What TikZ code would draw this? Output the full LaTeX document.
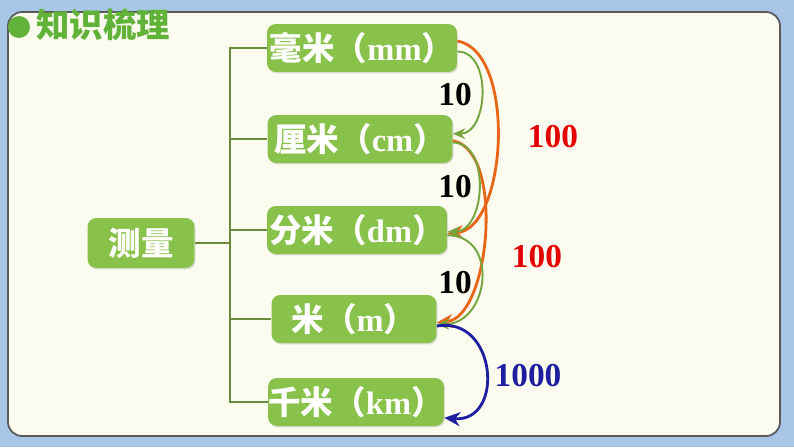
\documentclass[tikz,border=0pt]{standalone}
\usepackage{fontspec}
\setmainfont{Liberation Serif}
\newfontfamily\cjk{Noto Sans CJK SC}
\usetikzlibrary{positioning, arrows.meta, shadows}

\definecolor{leafgreen}{RGB}{136,194,74}
\definecolor{titlegreen}{RGB}{96,178,56}
\definecolor{branchgreen}{RGB}{104,140,60}
\definecolor{arcorange}{RGB}{232,102,24}
\definecolor{arcblue}{RGB}{30,30,160}
\definecolor{numred}{RGB}{228,0,0}
\definecolor{panelcream}{RGB}{252,251,240}
\definecolor{frameblue}{RGB}{168,198,232}

\tikzset{
  unitbox/.style={fill=leafgreen, rounded corners=5pt, text=white, inner sep=0pt,
    minimum height=0.96cm, font=\bfseries\fontsize{18.5}{21}\selectfont,
    drop shadow={shadow xshift=0.6pt, shadow yshift=-0.8pt, opacity=0.25}},
  branch/.style={draw=branchgreen, line width=0.7pt},
  tenarc/.style={draw=leafgreen!85!black, line width=1.1pt, -{Stealth[length=7pt, width=6pt]}},
  hundredarc/.style={draw=arcorange, line width=1.6pt, -{Stealth[length=9pt, width=8pt]}},
  thousandarc/.style={draw=arcblue, line width=1.6pt, -{Stealth[length=9pt, width=8pt]}},
  numlabel/.style={font=\bfseries\fontsize{19}{21}\selectfont},
}

\begin{document}
\begin{tikzpicture}[x=0.02cm, y=-0.02cm]
    \useasboundingbox (0,0) rectangle (794,447);
    % frame and panel
    \fill[frameblue] (0,0) rectangle (794,447);
    \filldraw[fill=panelcream, draw=black!65, line width=1pt, rounded corners=8pt] (8,12) rectangle (780,436);

    % title
    \fill[titlegreen] (19,27) circle (11);
    \node[anchor=west, text=titlegreen, font=\cjk\bfseries\fontsize{19}{21}\selectfont, inner sep=0pt] (title) at (36,25) {知识梳理};

    % boxes
    \node[unitbox, minimum width=2.14cm, minimum height=1cm] (cl) at (141,243) {\cjk 测量};
    \node[unitbox, minimum width=3.80cm] (mm) at (362,48) {{\cjk 毫米（}mm{\cjk ）}};
    \node[unitbox, minimum width=3.70cm] (cm) at (360,139) {{\cjk 厘米（}cm{\cjk ）}};
    \node[unitbox, minimum width=3.60cm] (dm) at (357,230) {{\cjk 分米（}dm{\cjk ）}};
    \node[unitbox, minimum width=3.30cm] (m) at (354,319) {{\cjk 米（}m{\cjk ）}};
    \node[unitbox, minimum width=3.52cm] (km) at (356,402) {{\cjk 千米（}km{\cjk ）}};

    % tree
    \coordinate (trunk) at (230,0);
    \draw[branch] (cl.east) -- (cl.east -| trunk);
    \draw[branch] (mm.west) -- (mm.west -| trunk) |- (km.west);
    \draw[branch] (cm.west) -- (cm.west -| trunk);
    \draw[branch] (dm.west) -- (dm.west -| trunk);
    \draw[branch] (m.west) -- (m.west -| trunk);

    % conversions
    \draw[hundredarc] ([yshift=4pt]mm.east) to[out=-10, in=5, looseness=0.8] ([yshift=-2pt]dm.east);
    \draw[hundredarc] ([yshift=-1pt]cm.east) to[out=-10, in=5, looseness=0.75] ([yshift=-2pt]m.east);
    \draw[tenarc] ([yshift=-2pt]mm.east) to[out=0, in=0, looseness=1.1] ([yshift=3pt]cm.east);
    \draw[tenarc] ([yshift=-2pt]cm.east) to[out=0, in=0, looseness=1.1] ([yshift=-1pt]dm.east);
    \draw[tenarc] ([yshift=-3pt]dm.east) to[out=0, in=0, looseness=1.5] ([yshift=-3pt]m.east);
    \draw[thousandarc] ([yshift=-4pt]m.east) to[out=10, in=-5, looseness=1.7] ([yshift=-9pt]km.east);

    % factors
    \node[numlabel] (f1) at (455,95) {10};
    \node[numlabel] (f2) at (455,187) {10};
    \node[numlabel] (f3) at (455,283) {10};
    \node[numlabel, text=numred] (f4) at (553,137) {100};
    \node[numlabel, text=numred] (f5) at (537,257) {100};
    \node[numlabel, text=arcblue] (f6) at (528,376) {1000};
\end{tikzpicture}
\end{document}
